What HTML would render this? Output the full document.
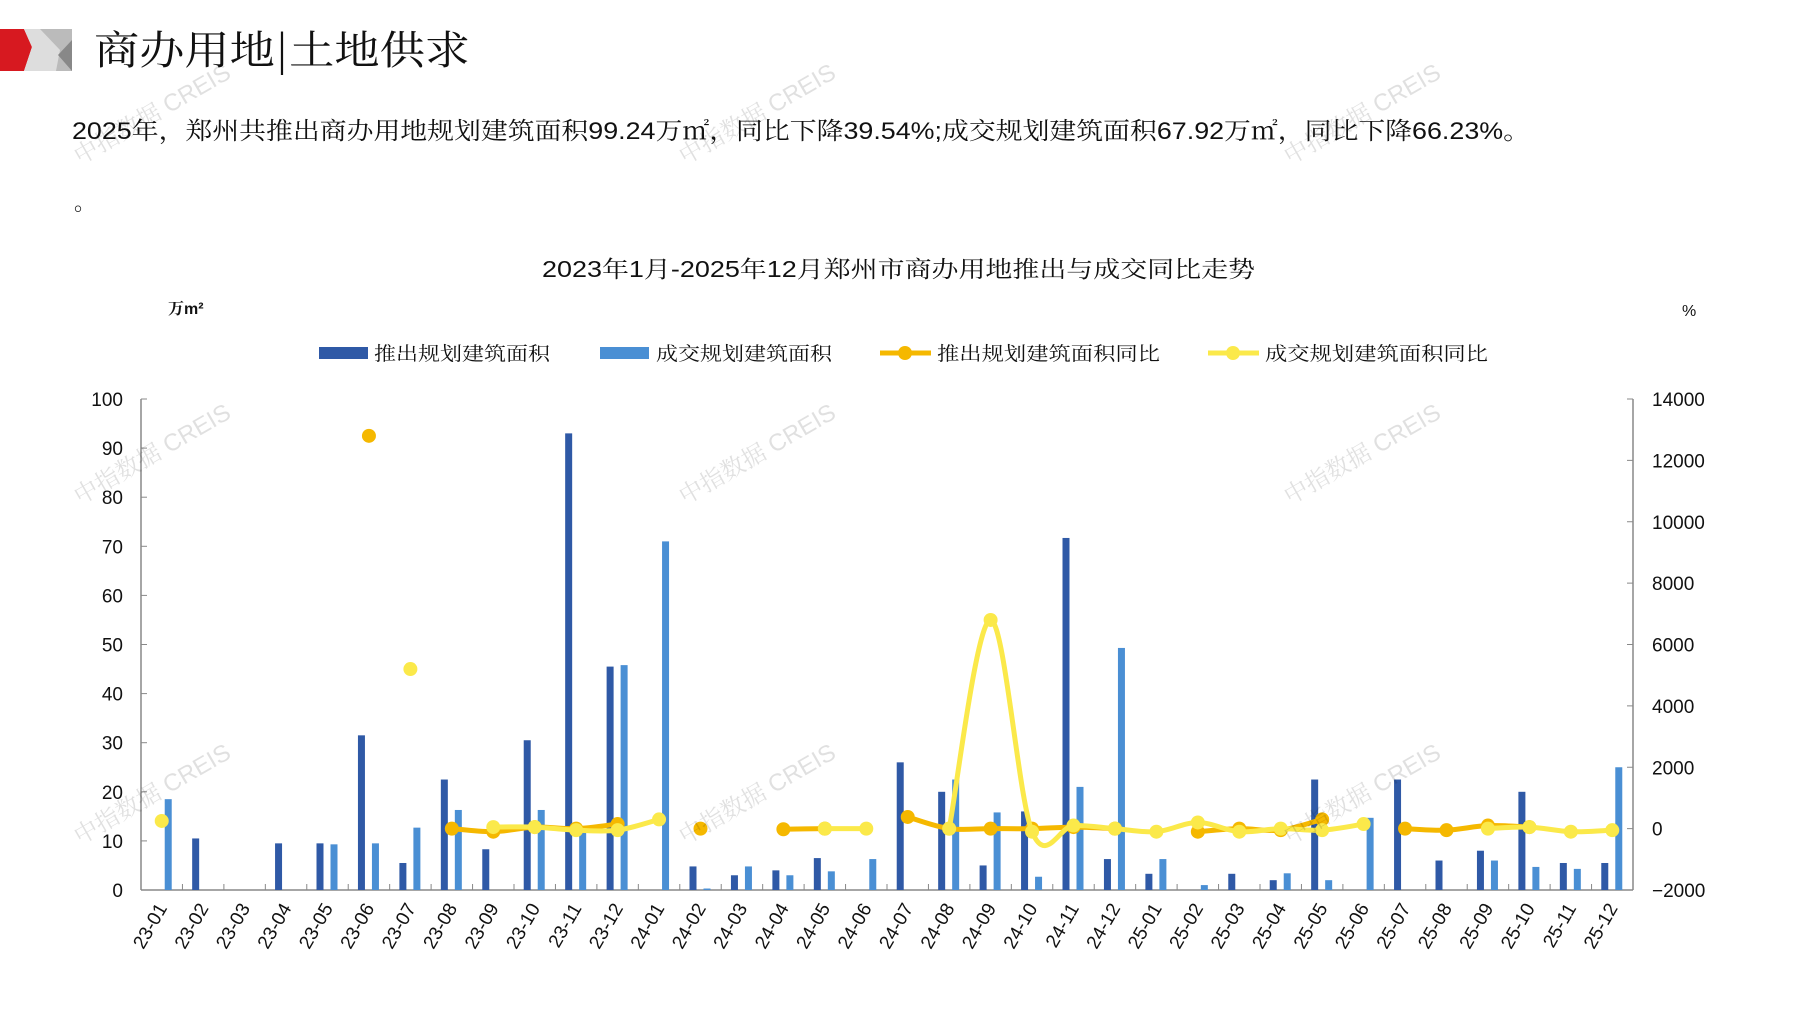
<!DOCTYPE html>
<html><head><meta charset="utf-8"><style>
body{margin:0;width:1797px;height:1010px;background:#fff;overflow:hidden;position:relative;font-family:"Liberation Sans","Noto Serif CJK SC",serif;}
</style></head><body>
<svg width="1797" height="1010" style="position:absolute;left:0;top:0" id="s"></svg>
<script>
const S=document.getElementById('s');let h='';
const F="font-family=\"Liberation Sans,Noto Serif CJK SC,serif\"";
h+='<polygon points="0,29 24,29 32,47 24,71 0,71" fill="#d71920"/>';
h+='<polygon points="24,29 72,29 72,71 24,71 32,47" fill="#ddd"/>';
h+='<polygon points="40,29 72,29 72,71 56,71 60,50" fill="#bbb"/>';
h+='<polygon points="58,55 72,40 72,71" fill="#888"/>';
h+=`<text x="94" y="64" font-size="40" textLength="376" lengthAdjust="spacingAndGlyphs" font-family="Noto Serif CJK SC,serif" fill="#111">商办用地|土地供求</text>`;
h+=`<text x="72" y="139" font-size="24" textLength="1458" lengthAdjust="spacingAndGlyphs" ${F} fill="#111">2025年，郑州共推出商办用地规划建筑面积99.24万㎡，同比下降39.54%;成交规划建筑面积67.92万㎡，同比下降66.23%。</text>`;
h+=`<text x="74" y="210" font-size="22" fill="#111">。</text>`;
h+=`<text x="542" y="277" font-size="23" textLength="713" lengthAdjust="spacingAndGlyphs" ${F} fill="#111">2023年1月-2025年12月郑州市商办用地推出与成交同比走势</text>`;
h+=`<text x="168" y="314" font-size="16" fill="#111" font-weight="bold">万m²</text>`;
h+=`<text x="1682" y="316" font-size="16" fill="#111">%</text>`;
const L=141,R=1633,Y0=890,Yt=399,cw=(R-L)/36,k=(Y0-Yt)/100,kr=(Y0-Yt)/16000;
const yl=v=>Y0-v*k, yr=v=>Y0-(v+2000)*kr, cx=i=>L+cw*(i+0.5);
h+=`<line x1="${L}" y1="${Yt}" x2="${L}" y2="${Y0}" stroke="#888" stroke-width="1.5"/>`;
h+=`<line x1="${R}" y1="${Yt}" x2="${R}" y2="${Y0}" stroke="#888" stroke-width="1.5"/>`;
h+=`<line x1="${L}" y1="${Y0}" x2="${R}" y2="${Y0}" stroke="#888" stroke-width="1.5"/>`;
for(let v=0;v<=100;v+=10){let y=yl(v);h+=`<line x1="${L}" y1="${y}" x2="${L+6}" y2="${y}" stroke="#888"/><text x="123" y="${y+7}" font-size="19" text-anchor="end" fill="#111">${v}</text>`;}
for(let v=-2000;v<=14000;v+=2000){let y=yr(v);h+=`<line x1="${R-6}" y1="${y}" x2="${R}" y2="${y}" stroke="#888"/><text x="1652" y="${y+7}" font-size="19" fill="#111">${v<0?'−'+(-v):v}</text>`;}
for(let i=0;i<=36;i++){let x=L+cw*i;h+=`<line x1="${x}" y1="${Y0}" x2="${x}" y2="${Y0-6}" stroke="#888"/>`;}
const lab=[];for(let y of [23,24,25])for(let m=1;m<=12;m++)lab.push(y+'-'+String(m).padStart(2,'0'));
const D=[0,10.5,0,9.5,9.5,31.5,5.5,22.5,8.3,30.5,93,45.5,0,4.8,3,4,6.5,0,26,20,5,16,71.7,6.3,3.3,0,3.3,2,22.5,0,22.5,6,8,20,5.5,5.5];
const Lt=[18.5,0,0,0,9.3,9.5,12.7,16.3,0,16.3,12,45.8,71,0.3,4.8,3,3.8,6.3,0,22.5,15.8,2.7,21,49.3,6.3,1,0,3.4,2,14.7,0,0,6,4.7,4.3,25];
for(let i=0;i<36;i++){let c=cx(i);
if(D[i])h+=`<rect x="${c-11}" y="${yl(D[i])}" width="7" height="${D[i]*k}" fill="#2f59a6"/>`;
if(Lt[i])h+=`<rect x="${c+3}" y="${yl(Lt[i])}" width="7" height="${Lt[i]*k}" fill="#4a8fd4"/>`;
h+=`<text transform="translate(${c+6},${Y0+18}) rotate(-60)" font-size="19" text-anchor="end" fill="#111">${lab[i]}</text>`;}
function segs(arr,col){let out='';let cur=[];const flush=()=>{if(cur.length==1){out+=`<circle cx="${cur[0][0]}" cy="${cur[0][1]}" r="7" fill="${col}"/>`;}else if(cur.length>1){let d=`M${cur[0][0]},${cur[0][1]}`;for(let q=0;q<cur.length-1;q++){let p0=cur[q-1]||cur[q],p1=cur[q],p2=cur[q+1],p3=cur[q+2]||p2;let c1=[p1[0]+(p2[0]-p0[0])/6,p1[1]+(p2[1]-p0[1])/6],c2=[p2[0]-(p3[0]-p1[0])/6,p2[1]-(p3[1]-p1[1])/6];d+=` C${c1} ${c2} ${p2}`;}out+=`<path d="${d}" fill="none" stroke="${col}" stroke-width="5"/>`;cur.forEach(p=>out+=`<circle cx="${p[0]}" cy="${p[1]}" r="7" fill="${col}"/>`);}cur=[];};
arr.forEach((v,i)=>{if(v===null)flush();else cur.push([cx(i),yr(v)]);});flush();return out;}
const n=null;
const O=[n,n,n,n,n,12800,n,0,-100,50,0,150,n,0,n,-20,0,n,380,0,0,0,50,0,n,-100,0,-50,300,n,0,-50,100,50,n,n];
const Yw=[250,n,n,n,n,n,5200,n,50,50,-50,-50,300,n,n,n,0,0,n,0,6800,-100,100,0,-100,200,-100,0,-50,150,n,n,0,50,-100,-50];
h+=segs(O,'#f5b800');h+=segs(Yw,'#fbe94a');
const LT=(x,t)=>`<text x="${x}" y="360" font-size="19" textLength="176" lengthAdjust="spacingAndGlyphs" ${F} fill="#111">${t}</text>`;
h+=`<rect x="319" y="347" width="49" height="12" fill="#2f59a6"/>`+LT(374,'推出规划建筑面积');
h+=`<rect x="600" y="347" width="49" height="12" fill="#4a8fd4"/>`+LT(656,'成交规划建筑面积');
h+=`<line x1="880" y1="353" x2="931" y2="353" stroke="#f5b800" stroke-width="5"/><circle cx="905" cy="353" r="7" fill="#f5b800"/><text x="937" y="360" font-size="19" textLength="223" lengthAdjust="spacingAndGlyphs" ${F} fill="#111">推出规划建筑面积同比</text>`;
h+=`<line x1="1208" y1="353" x2="1259" y2="353" stroke="#fbe94a" stroke-width="5"/><circle cx="1233" cy="353" r="7" fill="#fbe94a"/><text x="1265" y="360" font-size="19" textLength="223" lengthAdjust="spacingAndGlyphs" ${F} fill="#111">成交规划建筑面积同比</text>`;
[[80,165],[685,165],[1290,165],[80,505],[685,505],[1290,505],[80,845],[685,845],[1290,845]].forEach(([x,y])=>{h+=`<text transform="translate(${x},${y}) rotate(-30)" font-size="24" fill="#000" fill-opacity="0.12">中指数据 CREIS</text>`;});
S.innerHTML=h;
</script>
</body></html>
